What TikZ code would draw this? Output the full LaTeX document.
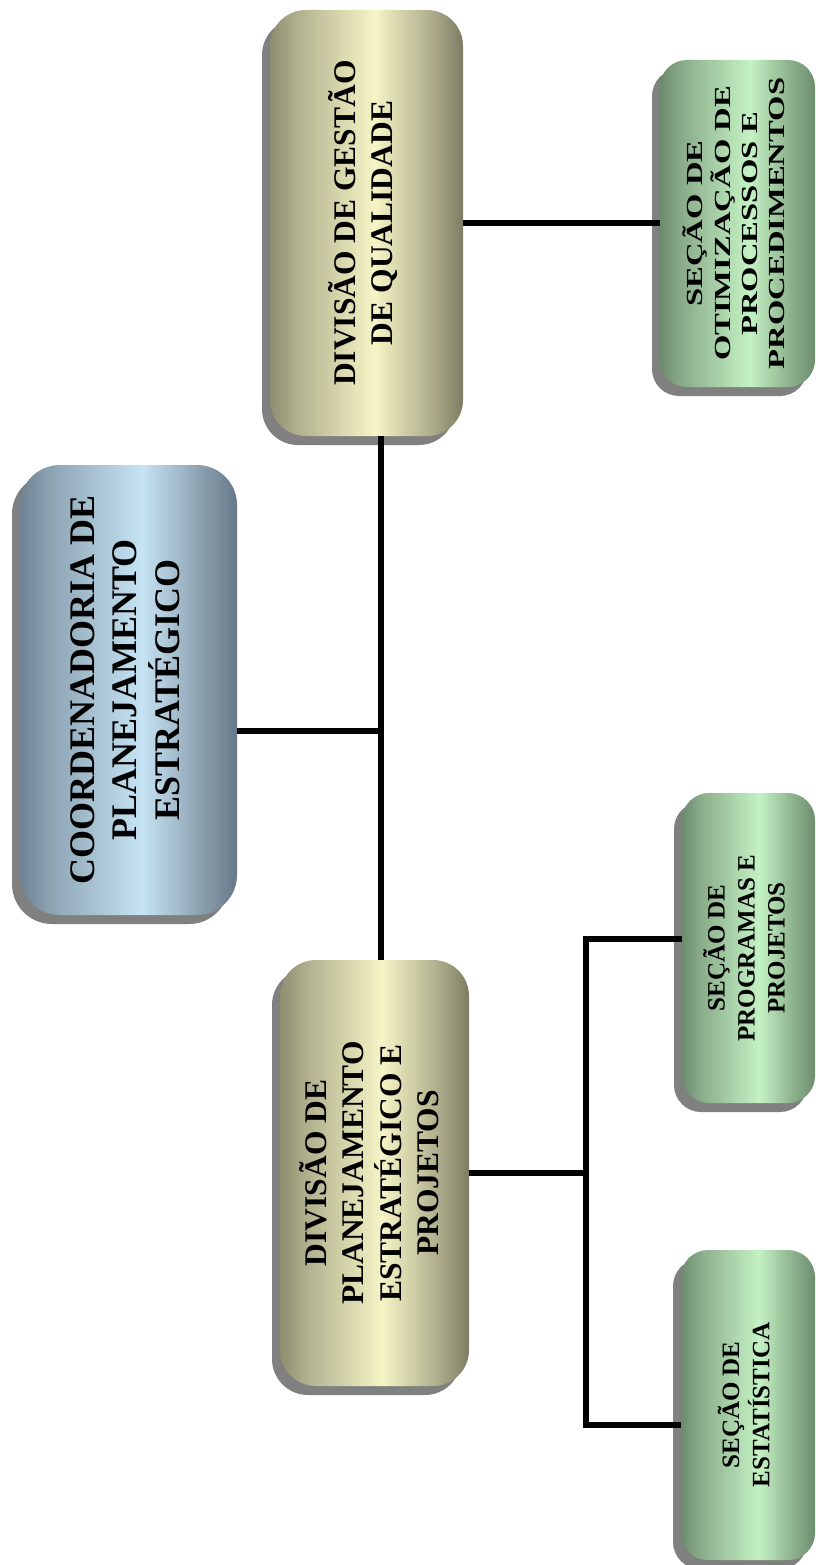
\documentclass[tikz,border=0pt]{standalone}
\usepackage{fontspec}
\usepackage{graphicx}
\setmainfont{Liberation Serif}
\usetikzlibrary{shadows}

% cylinder-like horizontal gradients (inner 25bp..75bp span the box)
\definecolor{blA}{HTML}{6E8494}\definecolor{blB}{HTML}{8CA3B2}
\definecolor{blC}{HTML}{C6E4F4}\definecolor{blD}{HTML}{8A9FAE}
\definecolor{blE}{HTML}{66798A}
\definecolor{khA}{HTML}{8E8E70}\definecolor{khB}{HTML}{B0B08E}
\definecolor{khC}{HTML}{F6F5C6}\definecolor{khD}{HTML}{ACAC8C}
\definecolor{khE}{HTML}{7C7C62}
\definecolor{grA}{HTML}{6A8C6C}\definecolor{grB}{HTML}{8AAC8A}
\definecolor{grC}{HTML}{C4F2C4}\definecolor{grD}{HTML}{8CB08C}
\definecolor{grE}{HTML}{6C8E6E}

\pgfdeclarehorizontalshading{steelbar}{100bp}{color(0bp)=(blA); color(25bp)=(blA);
  color(32bp)=(blB); color(53bp)=(blC); color(67bp)=(blD); color(75bp)=(blE); color(100bp)=(blE)}
\pgfdeclarehorizontalshading{khakibar}{100bp}{color(0bp)=(khA); color(25bp)=(khA);
  color(32bp)=(khB); color(52bp)=(khC); color(67bp)=(khD); color(75bp)=(khE); color(100bp)=(khE)}
\pgfdeclarehorizontalshading{greenbar}{100bp}{color(0bp)=(grA); color(25bp)=(grA);
  color(32bp)=(grB); color(54bp)=(grC); color(67bp)=(grD); color(75bp)=(grE); color(100bp)=(grE)}

% label read from bottom to top; optional stretch along the reading direction
\newcommand{\vlabel}[2][1]{\rotatebox{90}{\scalebox{#1}[1]{\begin{tabular}{@{}c@{}}#2\end{tabular}}}}

\tikzset{
  unitbox/.style={inner sep=0pt, text=black,
    drop shadow={shadow xshift=-8pt, shadow yshift=-9pt, fill=black!50, opacity=1}},
  headbox/.style={unitbox, shading=steelbar, rounded corners=40pt,
    font=\fontsize{36}{42}\selectfont\bfseries},
  divbox/.style={unitbox, shading=khakibar, rounded corners=36pt,
    font=\fontsize{31.5}{37}\selectfont\bfseries},
  secbox/.style={unitbox, shading=greenbar, rounded corners=27pt,
    font=\fontsize{25}{30}\selectfont\bfseries},
  wire/.style={line width=5.5pt, black, line join=miter}
}

\begin{document}
\begin{tikzpicture}[x=1pt, y=-1pt]
  \useasboundingbox (0,0) rectangle (817,1565);
  \fill[white] (0,0) rectangle (817,1565);

  % units
  \node[headbox, minimum width=217pt, minimum height=450pt] (coord) at (128.5,690)
    {\vlabel{COORDENADORIA DE\\PLANEJAMENTO\\ESTRATÉGICO}};
  \node[divbox, minimum width=193pt, minimum height=426pt] (gestao) at (366.5,223)
    {\vlabel{DIVISÃO DE GESTÃO\\DE QUALIDADE}};
  \node[divbox, minimum width=189pt, minimum height=426pt] (plan) at (374.5,1173)
    {\vlabel{DIVISÃO DE\\PLANEJAMENTO\\ESTRATÉGICO E\\PROJETOS}};
  \node[secbox, minimum width=155pt, minimum height=327pt,
        font=\fontsize{23}{27}\selectfont\bfseries] (otim) at (737.5,223.5)
    {\vlabel[1.42]{SEÇÃO DE\\OTIMIZAÇÃO DE\\PROCESSOS E\\PROCEDIMENTOS}};
  \node[secbox, minimum width=133pt, minimum height=310pt] (prog) at (748.5,948)
    {\vlabel{SEÇÃO DE\\PROGRAMAS E\\PROJETOS}};
  \node[secbox, minimum width=134pt, minimum height=310pt] (est) at (748,1405)
    {\vlabel{SEÇÃO DE\\ESTATÍSTICA}};

  % junction points
  \coordinate (trunk) at (381,731);
  \coordinate (fork) at (586,1173);
  \coordinate (forktop) at (586,939);
  \coordinate (forkbot) at (586,1425);

  % connectors
  \draw[wire] (gestao.south -| trunk) -- (plan.north -| trunk);
  \draw[wire] (coord.east |- trunk) -- (trunk);
  \draw[wire] (gestao.east) -- (otim.west |- gestao.east);
  \draw[wire] (plan.east) -- (fork);
  \draw[wire] (prog.west |- forktop) -- (forktop) -- (forkbot) -- (est.west |- forkbot);
\end{tikzpicture}
\end{document}
